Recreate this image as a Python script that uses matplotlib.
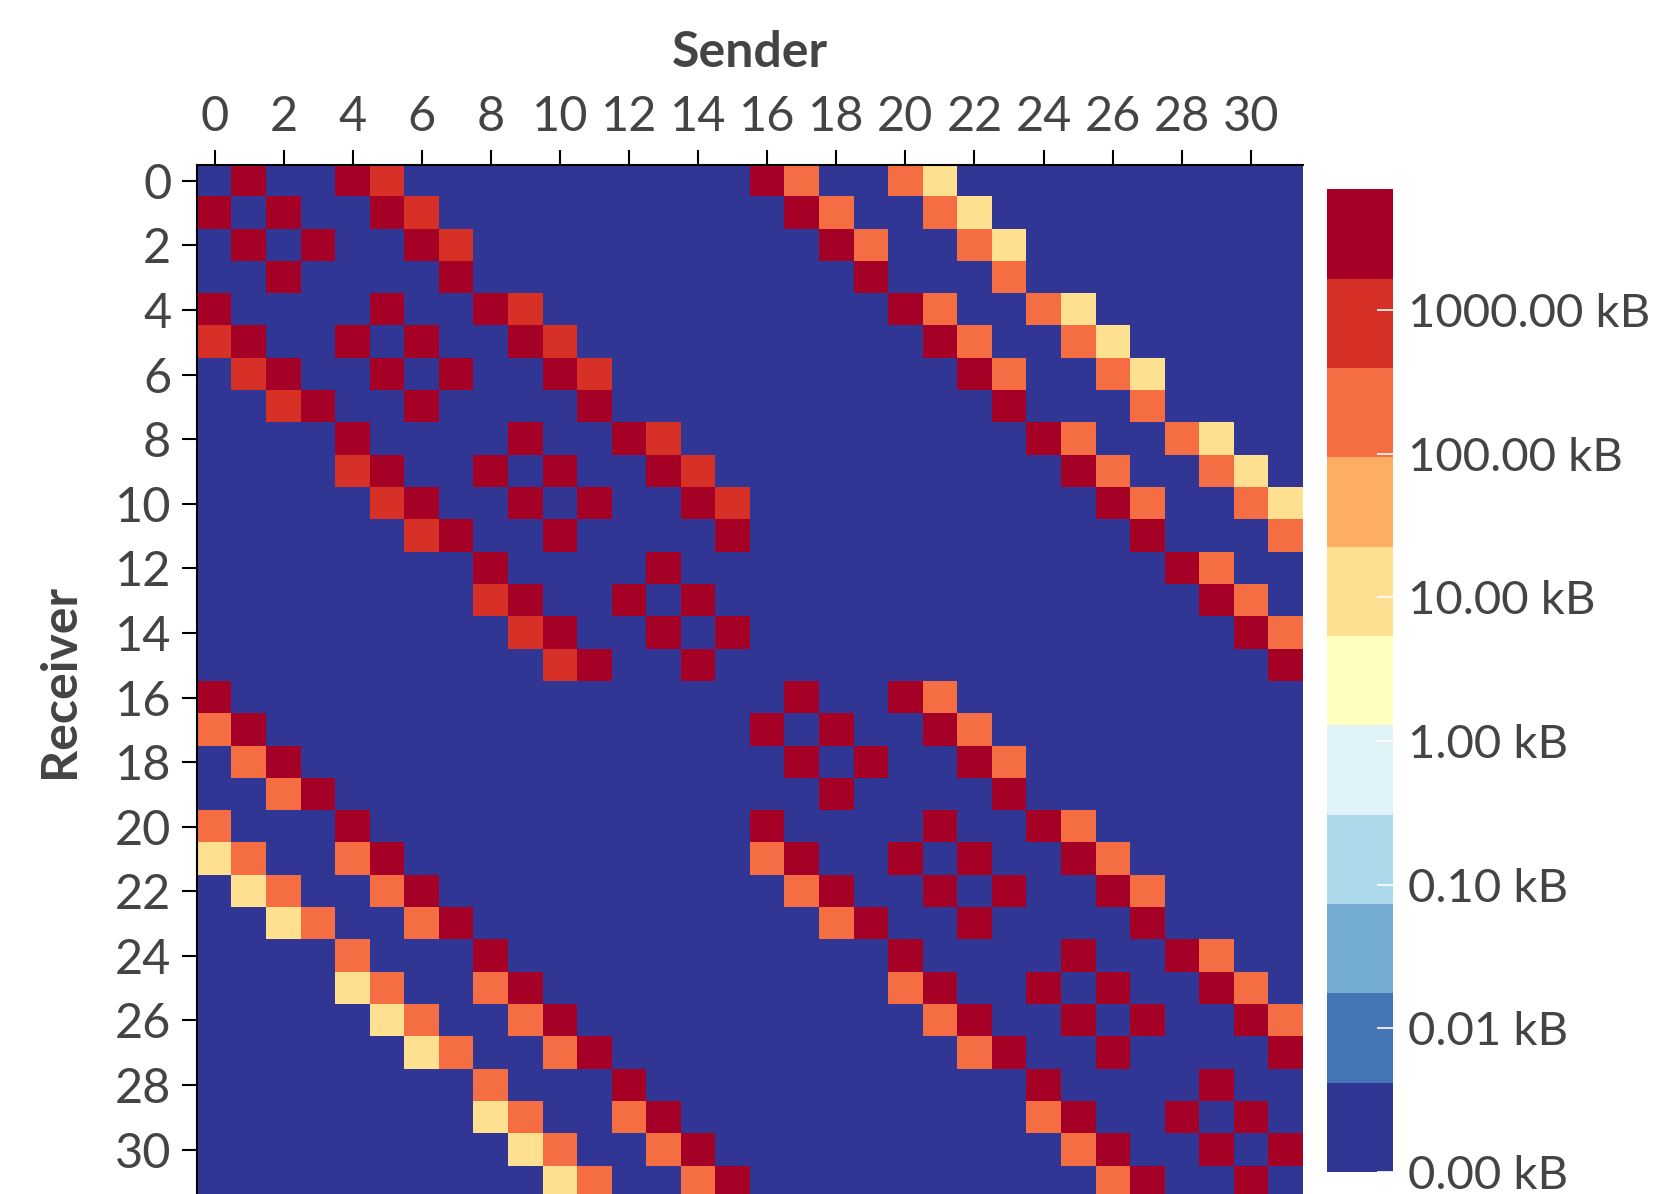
"""
Sender/receiver traffic heatmap (32 ranks), log-scaled colour bands in kB.
"""

import numpy as np
import matplotlib
matplotlib.use("Agg")
import matplotlib.pyplot as plt
from matplotlib.colors import ListedColormap, BoundaryNorm

plt.rcParams["font.family"] = ["Lato", "DejaVu Sans"]

# ── Data ──────────────────────────────────────────────────────────────────────
# one string per receiver (row), one character per sender (column)
TRAFFIC_ROWS = [
    ".R..Rr.........." "Ro..oy..........",
    "R.R..Rr........." ".Ro..oy.........",
    ".R.R..Rr........" "..Ro..oy........",
    "..R....R........" "...R...o........",
    "R....R..Rr......" "....Ro..oy......",
    "rR..R.R..Rr....." ".....Ro..oy.....",
    ".rR..R.R..Rr...." "......Ro..oy....",
    "..rR..R....R...." ".......R...o....",
    "....R....R..Rr.." "........Ro..oy..",
    "....rR..R.R..Rr." ".........Ro..oy.",
    ".....rR..R.R..Rr" "..........Ro..oy",
    "......rR..R....R" "...........R...o",
    "........R....R.." "............Ro..",
    "........rR..R.R." ".............Ro.",
    ".........rR..R.R" "..............Ro",
    "..........rR..R." "...............R",
    "R..............." ".R..Ro..........",
    "oR.............." "R.R..Ro.........",
    ".oR............." ".R.R..Ro........",
    "..oR............" "..R....R........",
    "o...R..........." "R....R..Ro......",
    "yo..oR.........." "oR..R.R..Ro.....",
    ".yo..oR........." ".oR..R.R..Ro....",
    "..yo..oR........" "..oR..R....R....",
    "....o...R......." "....R....R..Ro..",
    "....yo..oR......" "....oR..R.R..Ro.",
    ".....yo..oR....." ".....oR..R.R..Ro",
    "......yo..oR...." "......oR..R....R",
    "........o...R..." "........R....R..",
    "........yo..oR.." "........oR..R.R.",
    ".........yo..oR." ".........oR..R.R",
    "..........yo..oR" "..........oR..R.",
]
# approximate transferred volume per symbol, in kB
LEVEL_KB = {".": 0.0, "y": 10.0, "o": 200.0, "r": 800.0, "R": 3000.0}

SENDER_TICKS = list(range(0, 32, 2))
RECEIVER_TICKS = list(range(0, 32, 2))
CBAR_TICKS = [0, 1, 2, 3, 4, 5, 6]      # log10(bytes)
Z_MAX = 6.84                             # top of the colour scale, log10(bytes)

# ── Style ─────────────────────────────────────────────────────────────────────
BAND_COLORS = [
    "#313695", "#4575b4", "#74add1", "#abd9e9", "#e0f3f8", "#ffffbf",
    "#fee090", "#fdae61", "#f46d43", "#d73027", "#a50026",
]
TEXT_COLOR = "#444444"
FIG_W, FIG_H, DPI = 16.65, 11.94, 100

kb = np.array([[LEVEL_KB[c] for c in row] for row in TRAFFIC_ROWS])
z = np.log10(np.maximum(kb * 1000.0, 1.0))

cmap = ListedColormap(BAND_COLORS)
norm = BoundaryNorm(np.linspace(0, Z_MAX, len(BAND_COLORS) + 1), cmap.N)

fig = plt.figure(figsize=(FIG_W, FIG_H), dpi=DPI, facecolor="white")
ax = fig.add_axes([0.1186, -0.0034, 0.6637, 0.8655])
cax = fig.add_axes([0.7970, 0.0184, 0.0396, 0.8229])

im = ax.imshow(z, cmap=cmap, norm=norm, aspect="auto", interpolation="nearest")

# heatmap axes
ax.xaxis.tick_top()
ax.xaxis.set_label_position("top")
ax.set_xticks(SENDER_TICKS)
ax.set_yticks(RECEIVER_TICKS)
ax.tick_params(axis="both", length=10.8, width=1.5, color="black",
               labelsize=35, labelcolor=TEXT_COLOR, pad=8)
for side in ("right", "bottom"):
    ax.spines[side].set_visible(False)
for side in ("top", "left"):
    ax.spines[side].set_color("black")
    ax.spines[side].set_linewidth(1.5)

ax.set_xlabel("Sender", fontsize=36, fontweight="bold", color=TEXT_COLOR,
              labelpad=20)
ax.set_ylabel("Receiver", fontsize=36, fontweight="bold", color=TEXT_COLOR,
              labelpad=24)

# colour bar
cb = fig.colorbar(im, cax=cax, ticks=CBAR_TICKS)
cb.outline.set_visible(False)
cb.minorticks_off()
cax.set_yticklabels([f"{10 ** v / 1000:.2f} kB" for v in CBAR_TICKS])
cax.tick_params(which="minor", length=0)
cax.tick_params(which="major", direction="in", length=11.5, width=1.2,
                color="white", labelsize=34, labelcolor=TEXT_COLOR, pad=11)

fig.savefig("out.png", dpi=DPI, facecolor="white")
